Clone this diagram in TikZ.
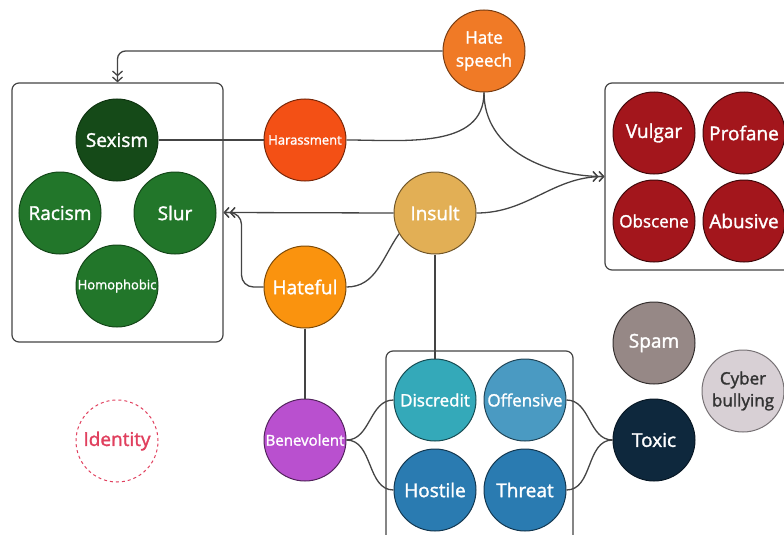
\documentclass[tikz,border=0pt]{standalone}
\usepackage{fontspec}
\setmainfont{Open Sans}[BoldFont=Open Sans, BoldFeatures={FakeBold=1.6}]
\usetikzlibrary{arrows.meta}

\definecolor{sexgreen}{HTML}{154A18}
\definecolor{catgreen}{HTML}{22762A}
\definecolor{harorange}{HTML}{F35015}
\definecolor{hateorange}{HTML}{F07A26}
\definecolor{insultgold}{HTML}{E2AF55}
\definecolor{hatefulorange}{HTML}{FA930E}
\definecolor{benpurple}{HTML}{B950CF}
\definecolor{vulgred}{HTML}{A3161C}
\definecolor{discteal}{HTML}{34A9B9}
\definecolor{offblue}{HTML}{4A9AC2}
\definecolor{hostblue}{HTML}{2A7BB1}
\definecolor{toxicnavy}{HTML}{0E283D}
\definecolor{spamgray}{HTML}{968886}
\definecolor{cybergray}{HTML}{D8D0D5}
\definecolor{identred}{HTML}{E0405E}
\definecolor{linkgray}{HTML}{444444}

\begin{document}
\begin{tikzpicture}[
  x=1pt, y=-1pt,
  cat/.style={circle, minimum size=82pt, inner sep=0pt, line width=1pt,
    text=white, font=\bfseries\fontsize{19}{21}\selectfont, align=center},
  grp/.style={draw=linkgray, line width=1.2pt, rounded corners=7pt},
  link/.style={draw=linkgray, line width=1.3pt},
  into/.style={-{Straight Barb[length=4.5pt,width=10pt]Straight Barb[length=4.5pt,width=10pt]}},
]
\useasboundingbox (0,0) rectangle (784,535);

% groups
\node [grp, minimum width=211pt, minimum height=259pt] (lbox) at (117.5,212.5) {};
\node [grp, minimum width=190pt, minimum height=187pt] (rbox) at (700,176.5) {};
\node [grp, minimum width=187pt, minimum height=200pt] (bbox) at (479.5,451) {};

% identity group
\node [cat, fill=sexgreen, draw=sexgreen!70!black] (sexism) at (117,140) {Sexism};
\node [cat, fill=catgreen, draw=catgreen!60!black] (racism) at (60,213) {Racism};
\node [cat, fill=catgreen, draw=catgreen!60!black] (slur) at (175,213) {Slur};
\node [cat, fill=catgreen, draw=catgreen!60!black, font=\bfseries\fontsize{13}{15}\selectfont] (homoph) at (117,286) {Homophobic};

% middle
\node [cat, fill=hateorange, draw=hateorange!50!black, font=\bfseries\fontsize{17}{23}\selectfont] (hate) at (484,51) {Hate\\speech};
\node [cat, fill=harorange, draw=harorange!50!black, font=\bfseries\fontsize{13}{15}\selectfont] (harass) at (305,140) {Harassment};
\node [cat, fill=insultgold, draw=insultgold!50!black] (insult) at (435,213) {Insult};
\node [cat, fill=hatefulorange, draw=hatefulorange!50!black] (hateful) at (305,287) {Hateful};
\node [cat, fill=benpurple, draw=benpurple!45!black, font=\bfseries\fontsize{15}{17}\selectfont] (benev) at (305,440) {Benevolent};

% profanity group
\node [cat, fill=vulgred, draw=vulgred!40!black] (vulgar) at (654,133) {Vulgar};
\node [cat, fill=vulgred, draw=vulgred!40!black] (profane) at (744,133) {Profane};
\node [cat, fill=vulgred, draw=vulgred!40!black, font=\bfseries\fontsize{17}{19}\selectfont] (obscene) at (654,221) {Obscene};
\node [cat, fill=vulgred, draw=vulgred!40!black] (abusive) at (744,221) {Abusive};

% offence group
\node [cat, fill=discteal, draw=discteal!45!black, font=\bfseries\fontsize{17}{19}\selectfont] (discred) at (435,400) {Discredit};
\node [cat, fill=offblue, draw=offblue!45!black, font=\bfseries\fontsize{17}{19}\selectfont] (offens) at (525,400) {Offensive};
\node [cat, fill=hostblue, draw=hostblue!45!black] (hostile) at (435,490) {Hostile};
\node [cat, fill=hostblue, draw=hostblue!45!black] (threat) at (525,490) {Threat};

% others
\node [cat, fill=spamgray, draw=spamgray!35!black] (spam) at (654,343) {Spam};
\node [cat, fill=toxicnavy, draw=toxicnavy!60!black] (toxic) at (654,440) {Toxic};
\node [cat, fill=cybergray, draw=cybergray!55!black, text=black!80, font=\bfseries\fontsize{17}{22}\selectfont] (cyber) at (743,391) {Cyber\\bullying};
\node [cat, draw=identred, dashed, text=identred] (ident) at (117,441) {Identity};

% links
\draw [link, into, rounded corners=8pt] (hate.west) -| (lbox.north);
\draw [link] (hate.south) to[out=-90,in=0] (harass.east);
\draw [link] (harass.west) -- (sexism.east);
\draw [link, into] (hate.south) to[out=-90,in=180] (rbox.west);
\draw [link, into] (insult.east) to[out=0,in=180] (rbox.west);
\draw [link, into] (insult.west) -- (lbox.east);
\draw [link, into, rounded corners=12pt] (hateful.west) -- ++(-22,0) |- (lbox.east);
\draw [link] (hateful.east) to[out=0,in=-125] (insult.-150);
\draw [link] (hateful) -- (benev);
\draw [link] (insult) -- (discred);
\draw [link] (benev.east) to[out=0,in=180] (discred.west);
\draw [link] (benev.east) to[out=0,in=180] (hostile.west);
\draw [link] (offens.east) to[out=0,in=180] (toxic.west);
\draw [link] (threat.east) to[out=0,in=180] (toxic.west);

\end{tikzpicture}
\end{document}
